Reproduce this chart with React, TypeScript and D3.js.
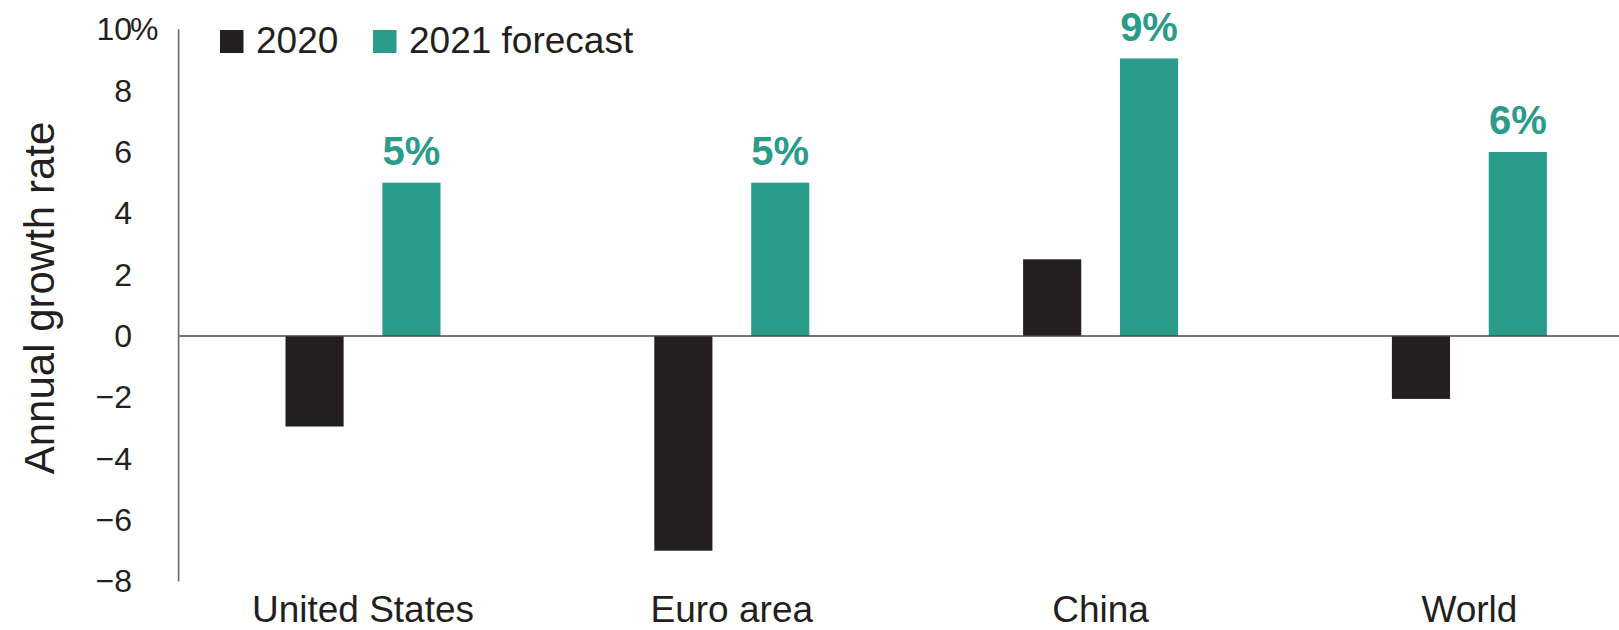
import React from "react";
import * as d3 from "d3";

const categories = ["United States", "Euro area", "China", "World"];
const seriesNames = ["2020", "2021 forecast"];
const values2020 = [-2.95, -7.0, 2.5, -2.05];
const values2021 = [5.0, 5.0, 9.05, 6.0];
const valueLabels2021 = ["5%", "5%", "9%", "6%"];
const yTicks = [-8, -6, -4, -2, 0, 2, 4, 6, 8, 10];
const yTitle = "Annual growth rate";

const W = 1619;
const H = 630;
const COLORS = ["#231F20", "#2A9C8A"];
const FONT = "'Liberation Sans', Arial, Helvetica, sans-serif";

export default function App() {
  const axisX = 178.6;
  const y = d3.scaleLinear().domain([-8, 10]).range([581.4, 29.3]);
  const x0 = d3.scaleBand<string>().domain(categories).range([axisX, axisX + 4 * 368.8]);
  const groupW = 155;
  const x1 = d3.scaleBand<string>().domain(seriesNames).range([0, groupW]).paddingInner(0.4);
  const groupStart = (c: string) => (x0(c) as number) + (x0.bandwidth() - groupW) / 2;
  const series = [values2020, values2021];
  const zeroY = y(0);

  return (
    <svg
      width={W}
      height={H}
      style={{ position: "absolute", left: 0, top: 0, display: "block", background: "#fff" }}
      fontFamily={FONT}
    >
      {/* bars */}
      {series.map((vals, si) =>
        categories.map((c, ci) => {
          const v = vals[ci];
          const bx = groupStart(c) + (x1(seriesNames[si]) as number);
          const top = Math.min(y(v), zeroY);
          const h = Math.abs(y(v) - zeroY);
          return (
            <rect key={`${si}-${ci}`} x={bx} y={top} width={x1.bandwidth()} height={h} fill={COLORS[si]} />
          );
        })
      )}

      {/* zero line */}
      <line x1={axisX} x2={W} y1={zeroY} y2={zeroY} stroke="#4a4a4a" strokeWidth={1.6} />
      {/* y axis line */}
      <line x1={axisX} x2={axisX} y1={y(10)} y2={y(-8)} stroke="#6b6b6b" strokeWidth={1.6} />

      {/* y tick labels */}
      {yTicks.map((t) => (
        <g key={t}>
          <text
            x={132}
            y={y(t)}
            textAnchor="end"
            dominantBaseline="central"
            fontSize={32}
            fill="#231F20"
          >
            {t < 0 ? "\u2212" + Math.abs(t) : String(t)}
          </text>
          {t === 10 && (
            <text x={130} y={y(t)} textAnchor="start" dominantBaseline="central" fontSize={32} fill="#231F20">
              %
            </text>
          )}
        </g>
      ))}

      {/* y title */}
      <text
        transform={`translate(53.6, 298) rotate(-90)`}
        textAnchor="middle"
        fontSize={42}
        fill="#231F20"
      >
        {yTitle}
      </text>

      {/* value labels */}
      {categories.map((c, ci) => {
        const cx = groupStart(c) + (x1(seriesNames[1]) as number) + x1.bandwidth() / 2;
        return (
          <text
            key={c}
            x={cx}
            y={y(values2021[ci]) - 17.5}
            textAnchor="middle"
            fontSize={40}
            fontWeight="bold"
            fill={COLORS[1]}
          >
            {valueLabels2021[ci]}
          </text>
        );
      })}

      {/* category labels */}
      {categories.map((c) => (
        <text
          key={c}
          x={groupStart(c) + groupW / 2}
          y={621.5}
          textAnchor="middle"
          fontSize={37}
          fill="#231F20"
        >
          {c}
        </text>
      ))}

      {/* legend */}
      <g>
        <rect x={220} y={30} width={23.5} height={23} fill={COLORS[0]} />
        <text x={256} y={52.7} fontSize={37} fill="#231F20">
          {seriesNames[0]}
        </text>
        <rect x={373} y={30} width={23.5} height={23} fill={COLORS[1]} />
        <text x={409} y={52.7} fontSize={37} fill="#231F20">
          {seriesNames[1]}
        </text>
      </g>
    </svg>
  );
}
